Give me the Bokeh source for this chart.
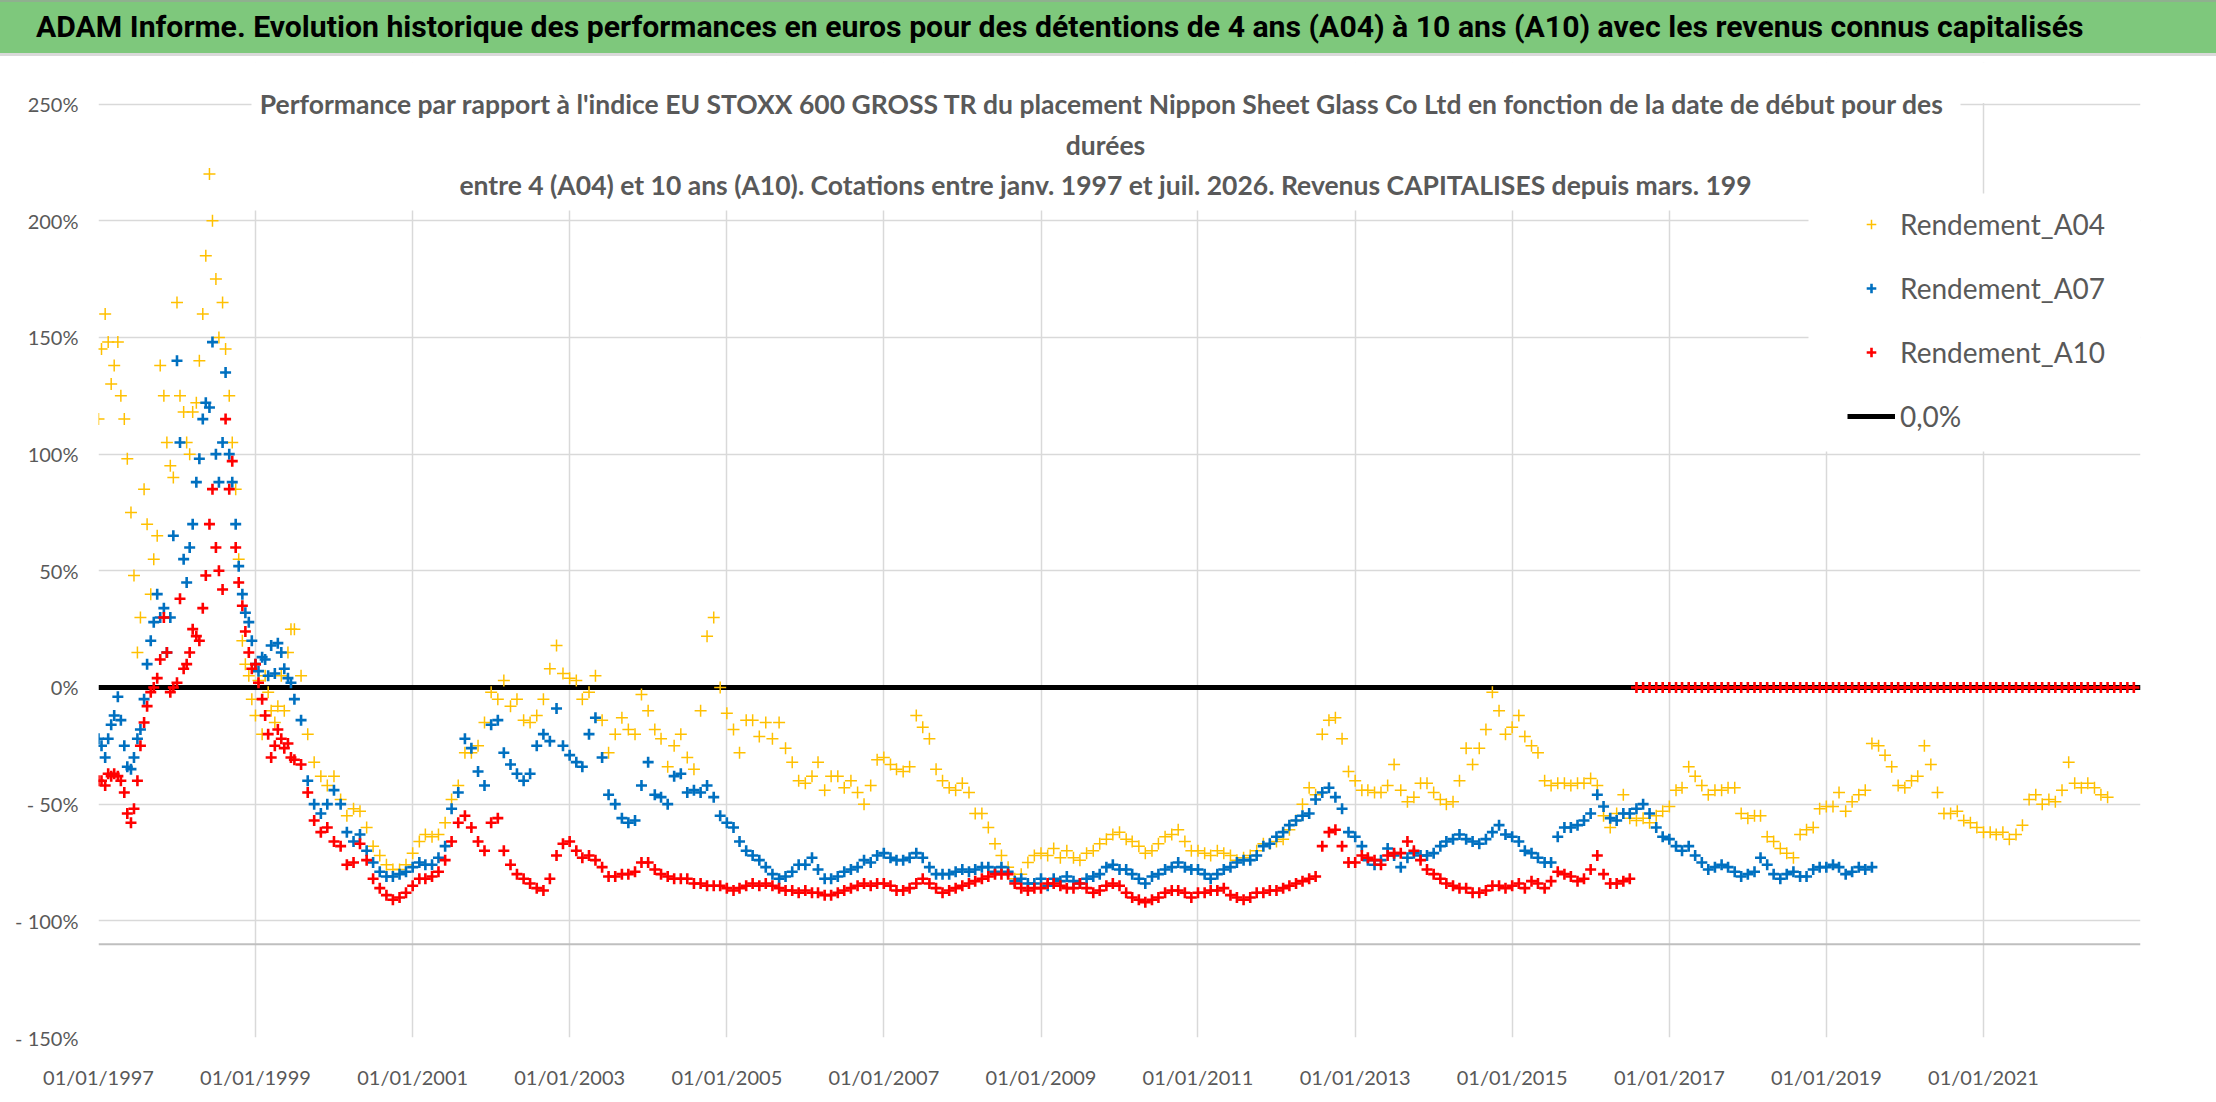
import pandas as pd
from bokeh.plotting import figure
from bokeh.layouts import column
from bokeh.models import (Range1d, FixedTicker, DatetimeTickFormatter, Span,
                          Legend, LegendItem, Label, ColumnDataSource, Div)
from bokeh.embed import file_html
from bokeh.resources import INLINE

# ---------------------------------------------------------------- texts
TITLE = ("ADAM Informe. Evolution historique des performances en euros pour des "
         "détentions de 4 ans (A04) à 10 ans (A10) avec les revenus connus capitalisés")
SUBTITLE = [
    "Performance par rapport à l'indice EU STOXX 600 GROSS TR  du placement Nippon Sheet Glass Co Ltd en fonction de la date de début pour des",
    "durées",
    "entre 4 (A04) et 10 ans (A10). Cotations entre janv. 1997 et juil. 2026. Revenus CAPITALISES depuis mars. 199",
]
SERIES_NAMES = ["Rendement_A04", "Rendement_A07", "Rendement_A10", "0,0%"]
Y_TICKS = [-150, -100, -50, 0, 50, 100, 150, 200, 250]
Y_TICK_LABELS = ["- 150%", "- 100%", "- 50%", "0%", "50%", "100%", "150%", "200%", "250%"]
X_TICK_YEARS = [1997, 1999, 2001, 2003, 2005, 2007, 2009, 2011, 2013, 2015, 2017, 2019, 2021]
REF_LEVEL = 0.0

# ---------------------------------------------------------------- data (%)
# semi-monthly values, 1997-01-01 .. 1999-06-15
A04_EARLY = [115, 145, 160, 148, 130, 138, 148, 125, 115, 98, 75, 48,
             15, 30, 85, 70, 40, 55, 65, 138, 125, 105, 95, 90,
             165, 125, 118, 105, 100, 118, 122, 140, 160, 185, 220, 200,
             175, 150, 165, 145, 125, 105, 85, 55, 20, 10, 5, -5,
             -12, 3, -20, 5, -2, -10, -15, -8, 5, -10, 15, 25]
A07_EARLY = [-22, -25, -30, -22, -16, -12, -4, -14, -25, -34, -35, -30,
             -22, -18, -5, 10, 20, 28, 40, 30, 34, 15, 30, 65,
             140, 105, 55, 45, 60, 70, 88, 98, 115, 122, 120, 148,
             100, 88, 105, 135, 100, 88, 70, 52, 40, 32, 28, 20,
             10, 7, 13, 12, 5, 18, 6, 19, 15, 8, 4, 2]
A10_EARLY = [-40, -40, -42, -37, -38, -37, -38, -40, -45, -54, -58, -52,
             -40, -25, -15, -8, -2, 0, 4, 12, 30, 15, -2, 0,
             2, 38, 8, 10, 15, 25, 22, 20, 34, 48, 70, 85,
             60, 50, 42, 115, 85, 97, 60, 45, 35, 24, 15, 8,
             10, 2, -5, -12, -20, -30, -25, -18, -22, -26, -24, -30]

# monthly values from 1999-07-01
A04_MONTHLY = [
    25, 5, -20, -32, -38, -42,
    -38, -48, -55, -52, -53, -60, -68, -72, -76, -78, -78, -76,
    -71, -66, -63, -64, -63, -58, -48, -42, -28, -28, -25, -15,
    -2, -5, 3, -8, -5, -14, -15, -12, -5, 8, 18, 6,
    4, 3, -5, -2, 5, -14, -28, -20, -13, -18, -20, -3,
    -10, -18, -22, -34, -25, -20, -30, -35, -10, 22, 30, 0,
    -11, -18, -28, -14, -14, -21, -15, -22, -15, -26, -32, -40,
    -41, -38, -32, -44, -38, -38, -43, -40, -45, -50, -42, -31,
    -30, -33, -35, -36, -34, -12, -17, -22, -35, -40, -43, -44,
    -41, -45, -54, -54, -60, -67, -72, -77, -82, -80, -75, -72,
    -71, -72, -69, -73, -70, -73, -74, -71, -70, -67, -65, -63,
    -62, -65, -66, -68, -71, -70, -67, -64, -63, -61, -66, -70,
    -70, -71, -72, -70, -71, -72, -74, -73, -72, -70, -67, -67,
    -66, -65, -61, -57, -50, -43, -46, -20, -14, -13, -22, -36,
    -40, -44, -44, -45, -45, -42, -33, -44, -49, -47, -41, -41,
    -45, -48, -50, -49, -40, -26, -33, -26, -18, -2, -10, -20,
    -17, -12, -21, -25, -28, -40, -42, -41, -41, -42, -41, -41,
    -39, -42, -55, -60, -54, -46, -56, -57, -56, -58, -55, -53,
    -51, -44, -43, -34, -38, -42, -46, -44, -44, -43, -43, -54,
    -56, -55, -55, -64, -66, -69, -71, -73, -63, -61, -60, -52,
    -51, -51, -45, -53, -49, -46, -44, -24, -25, -29, -34, -42,
    -43, -40, -38, -25, -33, -45, -54, -54, -53, -57, -58, -60,
    -62, -62, -63, -62, -65, -63, -59, -48, -46, -50, -48, -49,
    -44, -32, -41, -43, -41, -43, -46, -47,
]
A07_MONTHLY = [
    -5, -14, -40, -50, -54, -50,
    -44, -50, -62, -66, -63, -70, -75, -79, -81, -81, -80, -79,
    -77, -75, -76, -76, -73, -68, -52, -45, -22, -26, -36, -42,
    -16, -14, -28, -33, -37, -40, -37, -25, -20, -23, -9, -25,
    -29, -32, -34, -20, -13, -30, -46, -50, -56, -58, -57, -42,
    -32, -46, -47, -50, -38, -37, -45, -44, -45, -42, -47, -55,
    -58, -60, -66, -70, -72, -74, -77, -80, -82, -81, -79, -76,
    -76, -73, -78, -82, -82, -81, -79, -78, -77, -74, -75, -72,
    -71, -73, -74, -74, -73, -71, -73, -77, -80, -80, -80, -79,
    -78, -79, -78, -77, -77, -79, -77, -79, -83, -82, -84, -84,
    -82, -85, -82, -83, -81, -83, -84, -82, -81, -80, -77, -76,
    -78, -78, -80, -82, -84, -81, -80, -78, -77, -75, -77, -78,
    -78, -80, -82, -80, -78, -77, -75, -74, -74, -72, -68, -67,
    -64, -62, -59, -57, -55, -54, -48, -45, -43, -47, -52, -62,
    -64, -68, -74, -76, -74, -69, -72, -77, -73, -71, -72, -72,
    -71, -68, -66, -65, -63, -65, -66, -67, -65, -62, -59, -63,
    -64, -66, -70, -71, -73, -75, -75, -64, -60, -60, -59, -57,
    -54, -46, -51, -56, -57, -54, -54, -52, -50, -54, -60, -64,
    -65, -68, -70, -68, -72, -75, -78, -77, -76, -77, -79, -81,
    -80, -79, -73, -76, -80, -82, -80, -79, -81, -81, -78, -77,
    -77, -76, -77, -80, -79, -77, -78, -77,
]
A10_MONTHLY = [
    -31, -33, -45, -57, -62, -60,
    -66, -68, -76, -75, -67, -74, -82, -86, -89, -91, -90, -88,
    -85, -82, -82, -81, -79, -74, -66, -58, -55, -60, -66, -70,
    -58, -56, -70, -76, -80, -82, -84, -86, -87, -82, -72, -67,
    -66, -70, -73, -72, -74, -77, -81, -81, -80, -80, -79, -75,
    -75, -78, -80, -81, -82, -82, -82, -84, -84, -85, -85, -85,
    -86, -87, -86, -85, -84, -85, -84, -85, -86, -87, -87, -88,
    -87, -88, -88, -89, -89, -88, -87, -86, -85, -84, -85, -84,
    -84, -85, -87, -87, -86, -84, -82, -84, -86, -88, -87, -86,
    -85, -84, -83, -82, -81, -80, -80, -80, -84, -86, -87, -86,
    -86, -84, -84, -85, -86, -86, -84, -86, -88, -87, -85, -84,
    -85, -88, -90, -91, -92, -91, -90, -88, -87, -87, -88, -90,
    -88, -88, -87, -87, -86, -89, -90, -91, -90, -88, -88, -87,
    -87, -86, -85, -84, -83, -82, -81, -68, -62, -61, -68, -75,
    -75, -72, -73, -74, -76, -72, -71, -71, -66, -70, -74, -78,
    -80, -82, -84, -85, -86, -86, -88, -88, -87, -85, -85, -86,
    -85, -84, -86, -83, -84, -86, -83, -79, -80, -81, -83, -82,
    -78, -72, -80, -84, -84, -83, -82, 0, 0, 0, 0, 0,
    0, 0, 0, 0, 0, 0, 0, 0, 0, 0, 0, 0,
    0, 0, 0, 0, 0, 0, 0, 0, 0, 0, 0, 0,
    0, 0, 0, 0, 0, 0, 0, 0, 0, 0, 0, 0,
    0, 0, 0, 0, 0, 0, 0, 0, 0, 0, 0, 0,
    0, 0, 0, 0, 0, 0, 0, 0, 0, 0, 0, 0,
    0, 0, 0, 0, 0, 0, 0, 0, 0, 0, 0, 0,
]

EARLY_START = "1997-01-01"
MONTHLY_START = "1999-07-01"

# ---------------------------------------------------------------- styles / geometry
GREEN = "#7EC87C"
GREY_TXT = "#595959"
GRID = "#D9D9D9"
COL_A04 = "#FFC000"
COL_A07 = "#0070C0"
COL_A10 = "#FF0000"

W = 2216
TITLE_H = 56
MAIN_H = 1046
X0 = pd.Timestamp("1997-01-01")
X1 = pd.Timestamp("2023-01-01")
Y_MIN, Y_TICK_MAX = -150, 250
BORDER_L, BORDER_R, BORDER_T, BORDER_B = 98, 76, 6, 65
FRAME_W = W - BORDER_L - BORDER_R              # 2042
FRAME_H = MAIN_H - BORDER_T - BORDER_B         # 975
PX_PER_PCT = 933.4 / 400.0
Y_TOP = Y_MIN + FRAME_H / PX_PER_PCT           # frame top, above the 250 % tick
FRAME_LEFT_PAGE = BORDER_L
FRAME_BOTTOM_PAGE = TITLE_H + BORDER_T + FRAME_H


def ms(ts):
    return pd.Timestamp(ts).value / 1e6


def x_at(page_x):
    return ms(X0) + (ms(X1) - ms(X0)) * (page_x - FRAME_LEFT_PAGE) / FRAME_W


def y_at(page_y):
    return Y_MIN + (FRAME_BOTTOM_PAGE - page_y) / PX_PER_PCT


def series_source(early, monthly):
    d1 = pd.date_range(EARLY_START, periods=len(early), freq="SMS")
    d2 = pd.date_range(MONTHLY_START, periods=len(monthly), freq="MS")
    return ColumnDataSource(dict(x=list(d1) + list(d2), y=list(early) + list(monthly)))


# ---------------------------------------------------------------- title bar
band = (f"linear-gradient(to bottom, #8FB08F 0px, #8FB08F 2px, {GREEN} 2px, "
        f"{GREEN} 53px, #D9D9D9 53px, #D9D9D9 56px)")
title_div = Div(text=TITLE, width=W, height=TITLE_H, margin=0,
                styles={"background": band, "color": "#000000",
                        "font-family": "Roboto", "font-weight": "bold",
                        "font-size": "30.2px", "line-height": "54px",
                        "text-align": "left", "text-indent": "36px",
                        "white-space": "nowrap", "overflow": "hidden"})

# ---------------------------------------------------------------- main chart
p = figure(width=W, height=MAIN_H, x_axis_type="datetime",
           x_range=Range1d(X0, X1), y_range=Range1d(Y_MIN, Y_TOP),
           output_backend="svg", toolbar_location=None, margin=0,
           min_border_left=BORDER_L, min_border_right=BORDER_R,
           min_border_top=BORDER_T, min_border_bottom=BORDER_B,
           background_fill_color="white", border_fill_color="white", outline_line_color=None)

p.xaxis.ticker = FixedTicker(ticks=[ms(f"{y}-01-01") for y in X_TICK_YEARS])
fmt = "%d/%m/%Y"
p.xaxis.formatter = DatetimeTickFormatter(years=fmt, months=fmt, days=fmt, hours=fmt,
                                          minutes=fmt, seconds=fmt, milliseconds=fmt,
                                          microseconds=fmt, minsec=fmt, hourmin=fmt)
p.yaxis.ticker = FixedTicker(ticks=Y_TICKS)
p.yaxis.major_label_overrides = {v: s for v, s in zip(Y_TICKS, Y_TICK_LABELS)}

for ax in (p.xaxis, p.yaxis):
    ax.axis_line_color = None
    ax.major_tick_line_color = None
    ax.minor_tick_line_color = None
    ax.major_tick_out = 0
    ax.major_label_text_font = "Lato"
    ax.major_label_text_font_size = "20px"
    ax.major_label_text_color = GREY_TXT
p.xaxis.major_label_standoff = 27
p.yaxis.major_label_standoff = 20

p.xgrid.grid_line_color = GRID
p.ygrid.grid_line_color = GRID
p.xgrid.grid_line_width = 1.5
p.ygrid.grid_line_width = 1.5

# horizontal axis line crossing at -110 %
p.add_layout(Span(location=-110, dimension="width", line_color="#BFBFBF", line_width=2))

# blank strip above the 250 % gridline, and white boxes of chart title / legend
p.quad(left=ms(X0), right=ms(X1), top=Y_TOP + 5, bottom=Y_TICK_MAX + 0.45,
       fill_color="white", line_color=None)
p.quad(left=x_at(251), right=x_at(1960), top=Y_TOP + 5, bottom=y_at(210),
       fill_color="white", line_color=None)
p.quad(left=x_at(1808), right=ms(X1) + 1e10, top=y_at(193), bottom=y_at(451),
       fill_color="white", line_color=None)

# reference 0 % line
r_ref = p.line(x=[X0, X1], y=[REF_LEVEL, REF_LEVEL], line_color="black", line_width=5)

r04 = p.scatter("x", "y", source=series_source(A04_EARLY, A04_MONTHLY), marker="cross",
                size=12, line_color=COL_A04, line_width=1.5)
r07 = p.scatter("x", "y", source=series_source(A07_EARLY, A07_MONTHLY), marker="cross",
                size=11, line_color=COL_A07, line_width=2.6)
r10 = p.scatter("x", "y", source=series_source(A10_EARLY, A10_MONTHLY), marker="cross",
                size=11, line_color=COL_A10, line_width=2.6)

# chart title (3 lines, centred)
for line, page_y in zip(SUBTITLE, [103, 144, 184]):
    p.add_layout(Label(x=x_at(1105), y=y_at(page_y), text=line, text_align="center",
                       text_baseline="middle", text_font="Lato", text_font_style="bold",
                       text_font_size="26.5px", text_color=GREY_TXT))

legend = Legend(items=[LegendItem(label=SERIES_NAMES[0], renderers=[r04]),
                       LegendItem(label=SERIES_NAMES[1], renderers=[r07]),
                       LegendItem(label=SERIES_NAMES[2], renderers=[r10]),
                       LegendItem(label=SERIES_NAMES[3], renderers=[r_ref])],
                location=(1749, 603), orientation="vertical",
                padding=0, margin=0, spacing=28,
                glyph_width=48, glyph_height=24, label_height=36, label_standoff=5,
                label_text_font="Lato", label_text_font_size="28px",
                label_text_color=GREY_TXT, border_line_color=None,
                background_fill_alpha=0.0)
p.add_layout(legend)

layout = column(title_div, p, spacing=0)
open("out.html", "w").write(file_html(layout, INLINE))
